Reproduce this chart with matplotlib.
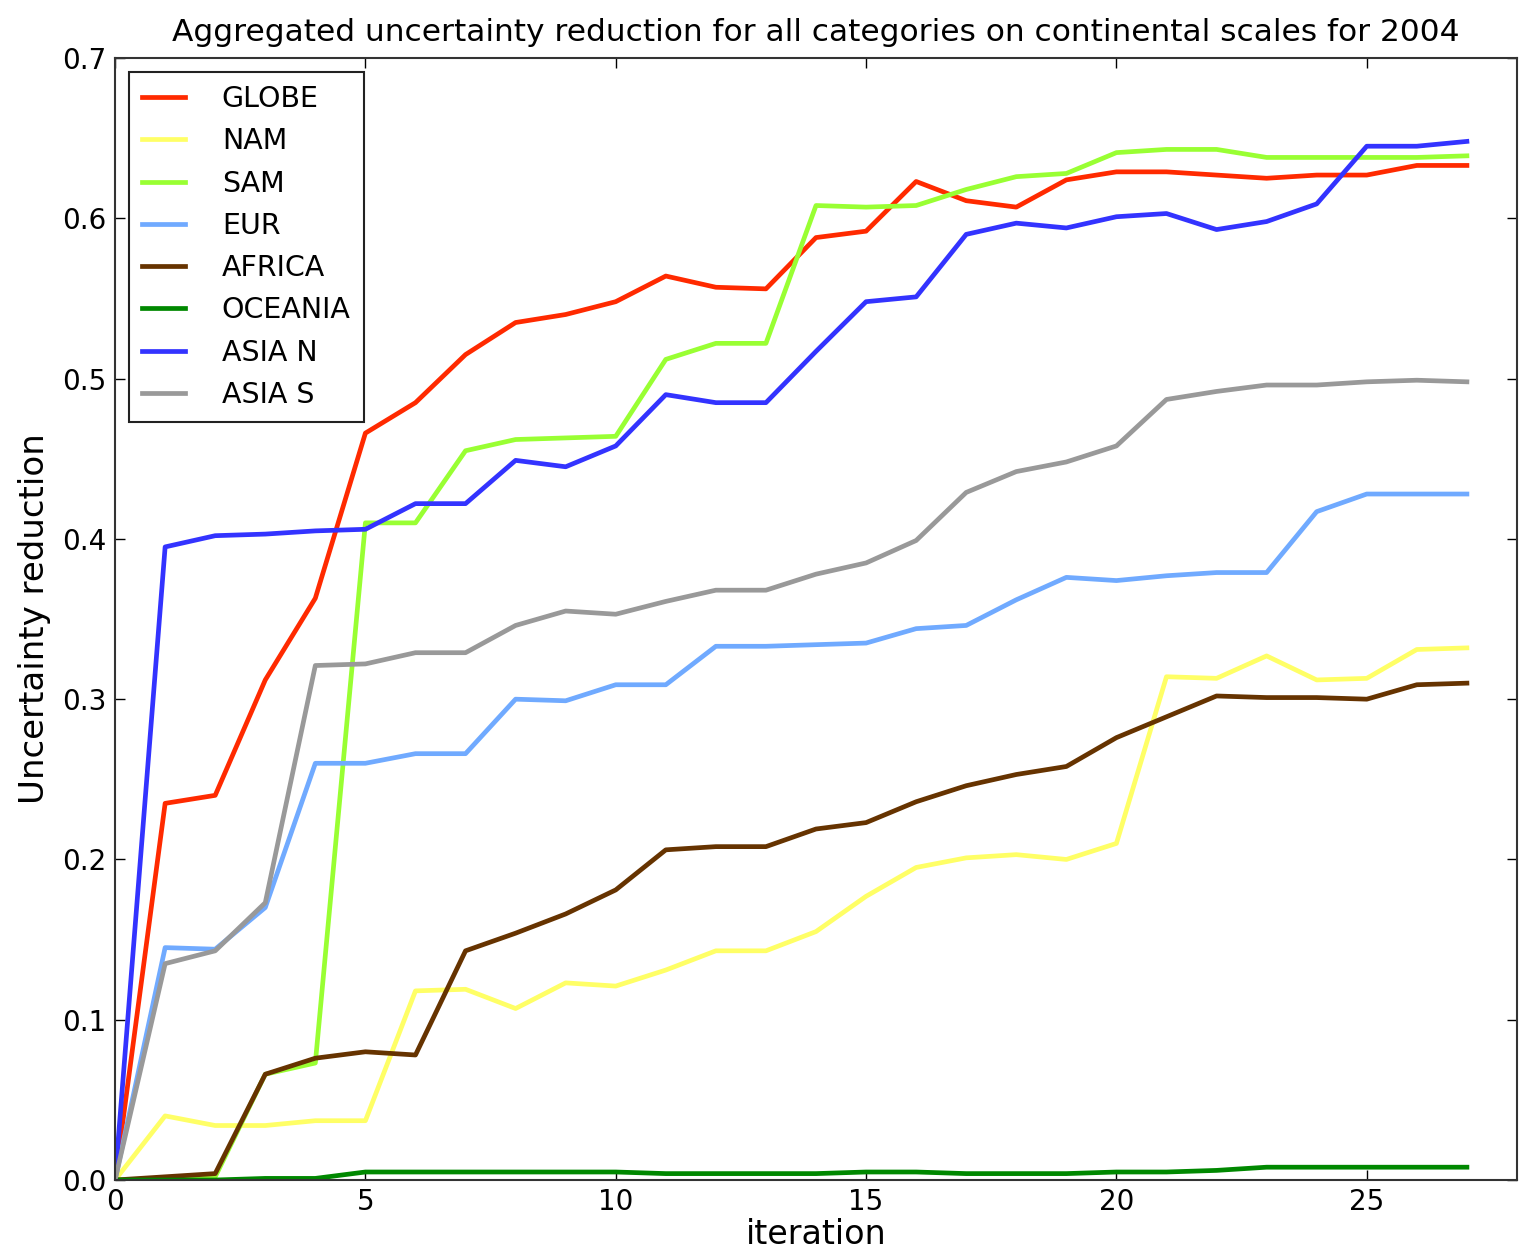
import matplotlib
matplotlib.use("Agg")
import matplotlib.pyplot as plt
import numpy as np

iterations = list(range(28))
labels = ["GLOBE", "NAM", "SAM", "EUR", "AFRICA", "OCEANIA", "ASIA N", "ASIA S"]

globe = [0, 0.235, 0.240, 0.312, 0.363, 0.466, 0.485, 0.515, 0.535, 0.540, 0.548, 0.564, 0.557, 0.556,
         0.588, 0.592, 0.623, 0.611, 0.607, 0.624, 0.629, 0.629, 0.627, 0.625, 0.627, 0.627, 0.633, 0.633]
nam = [0, 0.040, 0.034, 0.034, 0.037, 0.037, 0.118, 0.119, 0.107, 0.123, 0.121, 0.131, 0.143, 0.143,
       0.155, 0.177, 0.195, 0.201, 0.203, 0.200, 0.210, 0.314, 0.313, 0.327, 0.312, 0.313, 0.331, 0.332]
sam = [0, 0.001, 0.002, 0.066, 0.073, 0.410, 0.410, 0.455, 0.462, 0.463, 0.464, 0.512, 0.522, 0.522,
       0.608, 0.607, 0.608, 0.618, 0.626, 0.628, 0.641, 0.643, 0.643, 0.638, 0.638, 0.638, 0.638, 0.639]
eur = [0, 0.145, 0.144, 0.170, 0.260, 0.260, 0.266, 0.266, 0.300, 0.299, 0.309, 0.309, 0.333, 0.333,
       0.334, 0.335, 0.344, 0.346, 0.362, 0.376, 0.374, 0.377, 0.379, 0.379, 0.417, 0.428, 0.428, 0.428]
africa = [0, 0.002, 0.004, 0.066, 0.076, 0.080, 0.078, 0.143, 0.154, 0.166, 0.181, 0.206, 0.208, 0.208,
          0.219, 0.223, 0.236, 0.246, 0.253, 0.258, 0.276, 0.289, 0.302, 0.301, 0.301, 0.300, 0.309, 0.310]
oceania = [0, 0, 0, 0.001, 0.001, 0.005, 0.005, 0.005, 0.005, 0.005, 0.005, 0.004, 0.004, 0.004,
           0.004, 0.005, 0.005, 0.004, 0.004, 0.004, 0.005, 0.005, 0.006, 0.008, 0.008, 0.008, 0.008, 0.008]
asia_n = [0, 0.395, 0.402, 0.403, 0.405, 0.406, 0.422, 0.422, 0.449, 0.445, 0.458, 0.490, 0.485, 0.485,
          0.517, 0.548, 0.551, 0.590, 0.597, 0.594, 0.601, 0.603, 0.593, 0.598, 0.609, 0.645, 0.645, 0.648]
asia_s = [0, 0.135, 0.143, 0.173, 0.321, 0.322, 0.329, 0.329, 0.346, 0.355, 0.353, 0.361, 0.368, 0.368,
          0.378, 0.385, 0.399, 0.429, 0.442, 0.448, 0.458, 0.487, 0.492, 0.496, 0.496, 0.498, 0.499, 0.498]

series = [globe, nam, sam, eur, africa, oceania, asia_n, asia_s]
colors = ["#ff2a00", "#ffff66", "#99ff33", "#70aaff", "#663300", "#008800", "#3333ff", "#999999"]

plt.rcParams['font.family'] = ['DejaVu Sans']
fig = plt.figure(figsize=(15.2, 12.54), dpi=100)
ax = fig.add_axes([0.0757, 0.059, 0.9223, 0.8947])

for vals, lab, c in zip(series, labels, colors):
    ax.plot(iterations, vals, color=c, lw=3.4, label=lab)

ax.set_xlim(0, 28)
ax.set_ylim(0, 0.7)
ax.set_xticks([0, 5, 10, 15, 20, 25])
ax.set_yticks(np.arange(0, 0.71, 0.1))
ax.set_yticklabels([f"{v:.1f}" for v in np.arange(0, 0.71, 0.1)])
ax.tick_params(direction='in', top=True, right=True, length=7, width=1, labelsize=20, pad=6)
for s in ax.spines.values():
    s.set_linewidth(1.5)
    s.set_color('#333333')

ax.set_title("Aggregated uncertainty reduction for all categories on continental scales for 2004",
             fontsize=22.5, pad=12)
ax.set_xlabel("iteration", fontsize=24, labelpad=1)
ax.set_ylabel("Uncertainty reduction", fontsize=24.5, labelpad=8)

leg = ax.legend(loc='upper left', fontsize=20.5, handlelength=1.5, handletextpad=1.3,
                borderaxespad=0.5, labelspacing=0.5, fancybox=False, framealpha=1,
                edgecolor='#222222', borderpad=0.45)
leg.get_frame().set_linewidth(1.5)

fig.savefig("out.png", dpi=100)
